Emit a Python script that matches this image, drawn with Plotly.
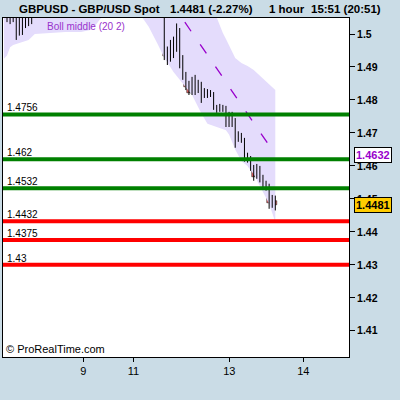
import plotly.graph_objs as go

# candles (bar index, open, high, low, close) - only those reaching into the view
bar_idx = [1, 2, 3, 4, 5, 6, 7, 8, 9,
           52, 53, 54, 55, 56, 57, 58, 59, 60, 61, 62, 63, 64, 65, 66, 67, 68, 69, 70,
           71, 72, 73, 74, 75, 76, 77, 78, 79, 80, 81, 82, 83, 84, 85, 86, 87, 88]
opens = [1.5100, 1.5080, 1.5042, 1.5070, 1.5003, 1.5085, 1.5080, 1.5040, 1.5070,
         1.5073, 1.4934, 1.4948, 1.4960, 1.4960, 1.5012, 1.4926, 1.4870, 1.4850, 1.4822,
         1.4848, 1.4851, 1.4845, 1.4815, 1.4824, 1.4815, 1.4821, 1.4770, 1.4779, 1.4770,
         1.4776, 1.4740, 1.4752, 1.4734, 1.4679, 1.4691, 1.4679, 1.4634, 1.4625, 1.4597,
         1.4567, 1.4594, 1.4564, 1.4546, 1.4532, 1.4485, 1.4494]
highs = [1.5120, 1.5100, 1.5110, 1.5100, 1.5110, 1.5100, 1.5100, 1.5100, 1.5090,
         1.5090, 1.4962, 1.4982, 1.4992, 1.5032, 1.5018, 1.4936, 1.4885, 1.4858, 1.4870,
         1.4876, 1.4861, 1.4855, 1.4836, 1.4833, 1.4830, 1.4824, 1.4785, 1.4788, 1.4785,
         1.4782, 1.4764, 1.4764, 1.4745, 1.4705, 1.4700, 1.4685, 1.4640, 1.4630, 1.4603,
         1.4606, 1.4600, 1.4573, 1.4555, 1.4546, 1.4512, 1.4510]
lows = [1.5036, 1.5030, 1.5036, 1.4982, 1.4995, 1.4997, 1.5018, 1.5024, 1.5030,
        1.4921, 1.4906, 1.4916, 1.4927, 1.4946, 1.4896, 1.4861, 1.4830, 1.4815, 1.4815,
        1.4815, 1.4821, 1.4791, 1.4806, 1.4806, 1.4809, 1.4770, 1.4761, 1.4764, 1.4764,
        1.4718, 1.4718, 1.4718, 1.4655, 1.4673, 1.4670, 1.4613, 1.4610, 1.4585, 1.4555,
        1.4561, 1.4550, 1.4530, 1.4525, 1.4470, 1.4473, 1.4465]
closes = [1.5042, 1.5045, 1.5090, 1.5075, 1.5085, 1.5006, 1.5040, 1.5080, 1.5060,
          1.4933, 1.4948, 1.4955, 1.4954, 1.5012, 1.4926, 1.4871, 1.4840, 1.4822, 1.4850,
          1.4845, 1.4841, 1.4815, 1.4824, 1.4815, 1.4821, 1.4782, 1.4779, 1.4773, 1.4779,
          1.4740, 1.4752, 1.4740, 1.4684, 1.4691, 1.4679, 1.4628, 1.4625, 1.4597, 1.4567,
          1.4594, 1.4564, 1.4546, 1.4532, 1.4488, 1.4494, 1.4481]

# Bollinger (20 2) band
band_idx = [0, 1, 2, 3, 5, 8, 10, 15, 20, 25, 28, 30, 32, 35, 40, 44, 45, 47, 50, 52,
            55, 58, 61, 64, 66, 69, 70, 71, 72, 73, 75, 77, 78, 79, 81, 83, 84, 85, 86, 88]
band_upper = [1.5310, 1.5312, 1.5315, 1.5318, 1.5320, 1.5322, 1.5325, 1.5330, 1.5330, 1.5328,
              1.5325, 1.5322, 1.5320, 1.5318, 1.5315, 1.5312, 1.5310, 1.5305, 1.5300, 1.5290,
              1.5270, 1.5230, 1.5180, 1.5130, 1.5095, 1.5050, 1.5025, 1.5003, 1.4985, 1.4967,
              1.4927, 1.4912, 1.4908, 1.4903, 1.4891, 1.4873, 1.4864, 1.4855, 1.4848, 1.4830]
band_lower = [1.4925, 1.4935, 1.4960, 1.4967, 1.4973, 1.4982, 1.5000, 1.5003, 1.5006, 1.5006,
              1.5012, 1.5030, 1.5055, 1.5070, 1.5080, 1.5062, 1.5048, 1.5021, 1.4967, 1.4928,
              1.4885, 1.4850, 1.4815, 1.4760, 1.4728, 1.4718, 1.4714, 1.4711, 1.4708, 1.4695,
              1.4650, 1.4615, 1.4607, 1.4600, 1.4575, 1.4540, 1.4520, 1.4505, 1.4485, 1.4430]
mid_idx = [55, 58, 61, 64, 67, 70, 73, 76, 79, 82, 85, 88]
band_mid = [1.5110, 1.5045, 1.5004, 1.4964, 1.4921, 1.4882, 1.4840, 1.4800, 1.4758, 1.4716,
            1.4676, 1.4632]

# support / resistance levels
green_levels = [1.4756, 1.462, 1.4532]
red_levels = [1.4432, 1.4375, 1.43]
level_labels = ['1.4756', '1.462', '1.4532', '1.4432', '1.4375', '1.43']

x_tickvals = [25.75, 42.0, 73.1, 97.1]
x_ticktext = ['9', '11', '13', '14']
y_tickvals = [1.41, 1.42, 1.43, 1.44, 1.45, 1.46, 1.47, 1.48, 1.49, 1.5]

last_price = 1.4481
FONT = 'Liberation Sans'
BG = '#cadce6'

fig = go.Figure()

fig.add_trace(go.Scatter(x=band_idx, y=band_lower, mode='lines',
                         line=dict(width=0), hoverinfo='skip', showlegend=False))
fig.add_trace(go.Scatter(x=band_idx, y=band_upper, mode='lines', fill='tonexty',
                         fillcolor='#e4dcfc', line=dict(width=0),
                         hoverinfo='skip', showlegend=False))
fig.add_trace(go.Scatter(x=mid_idx, y=band_mid, mode='lines',
                         line=dict(color='#9900cc', width=1.3, dash='11px,16px'),
                         showlegend=False))

# wicks, then bodies drawn as bars on top of them
wick_x, wick_y = [], []
for i, h, l in zip(bar_idx, highs, lows):
    wick_x += [i, i, None]
    wick_y += [l, h, None]
fig.add_trace(go.Scatter(x=wick_x, y=wick_y, mode='lines',
                         line=dict(color='black', width=1), hoverinfo='skip',
                         showlegend=False))
body_base = [min(o, c) for o, c in zip(opens, closes)]
body_len = [max(abs(c - o), 0.00005) for o, c in zip(opens, closes)]
body_col = ['#22b022' if c >= o else '#e86464' for o, c in zip(opens, closes)]
fig.add_trace(go.Bar(x=bar_idx, y=body_len, base=body_base, width=1.1,
                     marker=dict(color=body_col, line=dict(color='black', width=0.5)),
                     showlegend=False))

shapes = []
annotations = []
levels = [(v, '#008000') for v in green_levels] + [(v, '#ff0000') for v in red_levels]
for (v, col), lab in zip(levels, level_labels):
    shapes.append(dict(type='line', xref='paper', x0=0, x1=1, yref='y', y0=v, y1=v,
                       line=dict(color=col, width=4), layer='above'))
    annotations.append(dict(xref='paper', x=0.005, yref='y', y=v, text=lab,
                            showarrow=False, xanchor='left', yanchor='bottom', yshift=-1,
                            font=dict(family=FONT, size=10, color='black')))

# header texts
for txt, px in [('GBPUSD - GBP/USD Spot', 17), ('1.4481 (-2.27%)', 168),
                ('1 hour', 267), ('15:51 (20:51)', 309)]:
    annotations.append(dict(xref='paper', x=(px - 3) / 346, yref='paper', y=1.0265,
                            text=txt, showarrow=False, xanchor='left', yanchor='middle',
                            font=dict(family=FONT, size=11.5, color='black', weight='bold')))

annotations.append(dict(xref='paper', x=(45 - 3) / 346, yref='paper', y=0.997,
                        text='Boll middle (20 2)', showarrow=False, xanchor='left',
                        yanchor='top', font=dict(family=FONT, size=10, color='#9933cc')))
annotations.append(dict(xref='paper', x=0.004, yref='paper', y=0.0, text='© ProRealTime.com',
                        showarrow=False, xanchor='left', yanchor='bottom',
                        font=dict(family=FONT, size=11, color='black')))

# value boxes on the price axis
annotations.append(dict(xref='paper', x=(354 - 3) / 346, yref='y', y=band_mid[-1],
                        text='%.4f' % band_mid[-1], showarrow=False, xanchor='left',
                        yanchor='middle', bgcolor='white', bordercolor='black',
                        borderwidth=1, borderpad=1,
                        font=dict(family=FONT, size=11, color='#9900cc', weight='bold')))
annotations.append(dict(xref='paper', x=(354 - 3) / 346, yref='y', y=last_price,
                        text='%.4f' % last_price, showarrow=False, xanchor='left',
                        yanchor='middle', bgcolor='#ffcc00', bordercolor='black',
                        borderwidth=1, borderpad=1,
                        font=dict(family=FONT, size=11, color='black', weight='bold')))

fig.update_layout(
    width=400, height=400,
    margin=dict(l=3, r=51, t=18, b=43, autoexpand=False),
    paper_bgcolor=BG, plot_bgcolor='white',
    showlegend=False, bargap=0,
    shapes=shapes, annotations=annotations,
    xaxis=dict(range=[-0.3, 111.9], tickvals=x_tickvals, ticktext=x_ticktext,
               showgrid=False, zeroline=False, showline=True, linecolor='black',
               linewidth=1, mirror=True, ticks='outside', ticklen=4, tickcolor='black',
               tickfont=dict(family=FONT, size=11, color='black')),
    yaxis=dict(range=[1.40206, 1.50485], side='right', tickvals=y_tickvals,
               ticktext=['%g' % v for v in y_tickvals],
               showgrid=False, zeroline=False, showline=True, linecolor='black',
               linewidth=1, mirror=True, ticks='outside', ticklen=5, tickcolor='black',
               tickfont=dict(family=FONT, size=10.5, color='black', weight='bold')),
)

# no modebar, and no default page margin so the 400x400 figure fills the window
fig.write_html("out.html", config={'displayModeBar': False},
               post_script="document.body.style.margin='0';document.body.style.background='%s';" % BG)
